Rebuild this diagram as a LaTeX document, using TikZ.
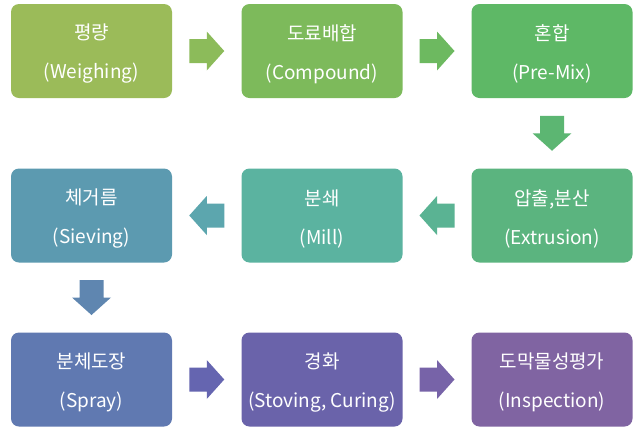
\documentclass[tikz,border=0pt]{standalone}
\usepackage{fontspec}
\setmainfont{Noto Sans CJK KR}
\usetikzlibrary{calc}
\definecolor{c1}{HTML}{9BBB59}
\definecolor{c2}{HTML}{7DBA5B}
\definecolor{c3}{HTML}{5EB866}
\definecolor{c4}{HTML}{5BB47F}
\definecolor{c5}{HTML}{5BB3A0}
\definecolor{c6}{HTML}{5C9AB0}
\definecolor{c7}{HTML}{6079B1}
\definecolor{c8}{HTML}{6A63AA}
\definecolor{c9}{HTML}{8064A2}
\definecolor{a1}{HTML}{8CBB5A}
\definecolor{a2}{HTML}{6DB960}
\definecolor{a3}{HTML}{5CB672}
\definecolor{a4}{HTML}{5AB393}
\definecolor{a5}{HTML}{5CA6AE}
\definecolor{a6}{HTML}{5F86B0}
\definecolor{a7}{HTML}{6565B0}
\definecolor{a8}{HTML}{7763A8}
\tikzset{
  procbox/.style={rectangle, rounded corners=8pt, minimum width=161pt, minimum height=94pt,
    inner sep=0pt, fill=#1},
  boxtext/.style={text=white, align=center, font=\fontsize{19}{39}\selectfont, inner sep=0pt, yshift=-3pt},
}
% block arrow centred at #1, rotated by #2, filled with #3
\newcommand{\blockarr}[3]{%
  \fill[#3, shift={(#1)}, rotate=#2]
    (-17.5,-12) -- (0,-12) -- (0,-19.5) -- (17.5,0) -- (0,19.5) -- (0,12) -- (-17.5,12) -- cycle;}
\begin{document}
\begin{tikzpicture}[x=1pt,y=-1pt]
\useasboundingbox[fill=white] (0,0) rectangle (642,432);
\node[procbox=c1, label={[boxtext]center:평량\\(Weighing)}] (n1) at (91.5,51) {};
\node[procbox=c2, label={[boxtext]center:도료배합\\(Compound)}] (n2) at (322,51) {};
\node[procbox=c3, label={[boxtext]center:혼합\\(Pre-Mix)}] (n3) at (552,51) {};
\node[procbox=c4, label={[boxtext]center:압출,분산\\(Extrusion)}] (n4) at (552,215.5) {};
\node[procbox=c5, label={[boxtext]center:분쇄\\(Mill)}] (n5) at (322,215.5) {};
\node[procbox=c6, label={[boxtext]center:체거름\\(Sieving)}] (n6) at (91.5,215.5) {};
\node[procbox=c7, label={[boxtext]center:분체도장\\(Spray)}] (n7) at (91.5,379.5) {};
\node[procbox=c8, label={[boxtext]center:경화\\(Stoving, Curing)}] (n8) at (322,379.5) {};
\node[procbox=c9, label={[boxtext]center:도막물성평가\\(Inspection)}] (n9) at (552,379.5) {};
\coordinate (r1) at ($(n1.east)!0.5!(n2.west)$);
\coordinate (r2) at ($(n2.east)!0.5!(n3.west)$);
\coordinate (r3) at ($(n3.south)!0.5!(n4.north)$);
\coordinate (r4) at ($(n4.west)!0.5!(n5.east)$);
\coordinate (r5) at ($(n5.west)!0.5!(n6.east)$);
\coordinate (r6) at ($(n6.south)!0.5!(n7.north)$);
\coordinate (r7) at ($(n7.east)!0.5!(n8.west)$);
\coordinate (r8) at ($(n8.east)!0.5!(n9.west)$);
\blockarr{r1}{0}{a1}
\blockarr{r2}{0}{a2}
\blockarr{r3}{-90}{a3}
\blockarr{r4}{180}{a4}
\blockarr{r5}{180}{a5}
\blockarr{r6}{-90}{a6}
\blockarr{r7}{0}{a7}
\blockarr{r8}{0}{a8}
\end{tikzpicture}
\end{document}
